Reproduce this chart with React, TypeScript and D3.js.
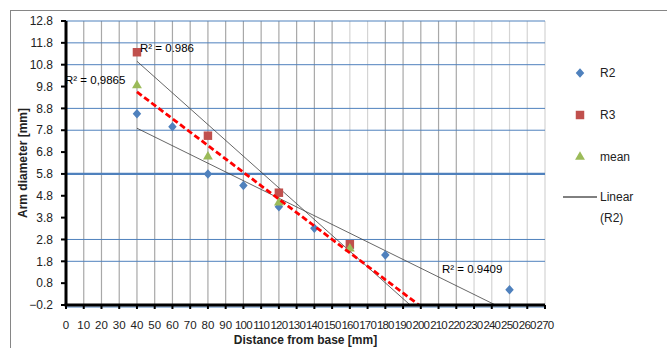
import React from 'react';
import * as d3 from 'd3';

const width = 667;
const height = 348;
const margin = { left: 66, right: 122, top: 21, bottom: 43 };

// data
const distances = [40, 60, 80, 100, 120, 140, 160, 180, 250];
const r2Values = [8.56, 7.96, 5.8, 5.27, 4.3, 3.31, 2.4, 2.09, 0.5];
const r3Distances = [40, 80, 120, 160];
const r3Values = [11.37, 7.55, 4.94, 2.58];
const meanDistances = [40, 80, 120, 160];
const meanValues = [9.9, 6.64, 4.53, 2.42];

const yTicks = [-0.2, 0.8, 1.8, 2.8, 3.8, 4.8, 5.8, 6.8, 7.8, 8.8, 9.8, 10.8, 11.8, 12.8];
const yGridShown = [12.8, 11.8, 10.8, 8.8, 7.8, 5.8, 2.8, 1.8, -0.2];
const xTicks = d3.range(0, 271, 10);
const lightXGrid = [160, 170, 230, 240, 250, 260, 270];

const legendItems = ['R2', 'R3', 'mean'];
const colors = { R2: '#4f81bd', R3: '#c0504d', mean: '#9bbb59' };

const font = '"Liberation Sans", Arial, sans-serif';

function fit(xs: number[], ys: number[]) {
  const mx = d3.mean(xs) as number;
  const my = d3.mean(ys) as number;
  let sxy = 0, sxx = 0;
  xs.forEach((x, i) => { sxy += (x - mx) * (ys[i] - my); sxx += (x - mx) * (x - mx); });
  const slope = sxy / sxx;
  return { slope, intercept: my - slope * mx };
}

// excel-like diamond, slightly taller than wide
const excelDiamond = {
  draw(ctx: any, size: number) {
    const w = Math.sqrt(size) / 2, h = w * 1.12;
    ctx.moveTo(0, -h); ctx.lineTo(w, 0); ctx.lineTo(0, h); ctx.lineTo(-w, 0); ctx.closePath();
  }
};
const diamond = d3.symbol().type(excelDiamond as any).size(72)() as string;
const square = d3.symbol().type(d3.symbolSquare).size(72)() as string;
const triangle = d3.symbol().type(d3.symbolTriangle).size(42)() as string;

export default function App() {
  const x = d3.scaleLinear().domain([0, 270]).range([margin.left, width - margin.right]);
  const y = d3.scaleLinear().domain([-0.2, 12.8]).range([height - margin.bottom, margin.top]);
  const x0 = x(0), x1 = x(270), y0 = y(-0.2), y1 = y(12.8);

  const line = d3.line<[number, number]>().x(d => x(d[0])).y(d => y(d[1]));
  const trend = (xs: number[], ys: number[]) => {
    const f = fit(xs, ys);
    return line([[40, f.slope * 40 + f.intercept], [270, f.slope * 270 + f.intercept]]) as string;
  };

  return (
    <svg width={width} height={height} style={{ position: 'absolute', left: 0, top: 0, background: '#fff' }}>
      <defs>
        <clipPath id="plot">
          <rect x={x0} y={y1} width={x1 - x0} height={y0 - y1} />
        </clipPath>
      </defs>
      <rect x={10.5} y={10.5} width={700} height={400} fill="#fff" stroke="#868686" />

      {xTicks.filter(t => t > 0).map(t => (
        <line key={'vx' + t} x1={x(t)} x2={x(t)} y1={y1} y2={y0}
          stroke={lightXGrid.includes(t) ? '#d4d4d4' : '#a8a8a8'} strokeWidth={1.2} />
      ))}
      {yGridShown.map(t => (
        <line key={'hy' + t} x1={x0} x2={x1} y1={y(t) + (t === -0.2 ? 2 : 0)} y2={y(t) + (t === -0.2 ? 2 : 0)}
          stroke="#4f81bd" strokeWidth={t === 5.8 ? 2.2 : 1} />
      ))}

      <g clipPath="url(#plot)" fill="none">
        <path d={trend(r3Distances, r3Values)} stroke="#404040" strokeWidth={0.8} />
        <path d={trend(distances, r2Values)} stroke="#404040" strokeWidth={0.8} />
      </g>

      {distances.map((d, i) => (
        <path key={'r2' + i} d={diamond} transform={`translate(${x(d)},${y(r2Values[i])})`} fill={colors.R2} />
      ))}
      {r3Distances.map((d, i) => (
        <path key={'r3' + i} d={square} transform={`translate(${x(d)},${y(r3Values[i])})`} fill={colors.R3} />
      ))}
      {meanDistances.map((d, i) => (
        <path key={'m' + i} d={triangle} transform={`translate(${x(d)},${y(meanValues[i]) + 1})`} fill={colors.mean} />
      ))}

      <g clipPath="url(#plot)" fill="none">
        <path d={trend(meanDistances, meanValues)} stroke="#ff0000" strokeWidth={2.8} strokeDasharray="6,3" />
      </g>

      {/* axes */}
      <line x1={x0} x2={x0} y1={y1} y2={y0 + 1} stroke="#000" strokeWidth={3} />
      <line x1={x0 - 1.5} x2={x1} y1={y0} y2={y0} stroke="#000" strokeWidth={3} />
      {yTicks.map(t => (
        <g key={'yt' + t}>
          <line x1={x0 - 5} x2={x0} y1={y(t)} y2={y(t)} stroke="#000" strokeWidth={2} />
          <text x={53} y={y(t)} dy="0.35em" textAnchor="end" fontFamily={font} fontSize={12} fill="#222">
            {d3.format('.1f')(t)}
          </text>
        </g>
      ))}
      {xTicks.map(t => (
        <g key={'xt' + t}>
          <line x1={x(t)} x2={x(t)} y1={y0} y2={y0 + 4} stroke="#000" strokeWidth={2} />
          <text x={x(t)} y={y0 + 24} textAnchor="middle" fontFamily={font} fontSize={11.5} fill="#222"
            letterSpacing={t >= 100 ? -0.8 : 0}>
            {t}
          </text>
        </g>
      ))}

      <text transform={`translate(27,${(y0 + y1) / 2}) rotate(-90)`} textAnchor="middle" fontFamily={font}
        fontSize={12} fontWeight="bold" fill="#222">Arm diameter [mm]</text>
      <text x={(x0 + x1) / 2} y={344} textAnchor="middle" fontFamily={font} fontSize={12} fontWeight="bold" fill="#222">
        Distance from base [mm]
      </text>

      {/* R² labels */}
      <text x={140} y={52} fontFamily={font} fontSize={11.5} fill="#000">R² = 0.986</text>
      <text x={65} y={84} fontFamily={font} fontSize={11.5} fill="#000">R² = 0,9865</text>
      <text x={442} y={273} fontFamily={font} fontSize={11.5} fill="#000">R² = 0.9409</text>

      {/* legend */}
      {legendItems.map((name, i) => {
        const ly = 73 + i * 42;
        const shape = name === 'R2' ? diamond : name === 'R3' ? square : triangle;
        return (
          <g key={name}>
            <path d={shape} transform={`translate(580,${ly})`} fill={colors[name as keyof typeof colors]} />
            <text x={600} y={ly} dy="0.35em" fontFamily={font} fontSize={12} fill="#222">{name}</text>
          </g>
        );
      })}
      <line x1={563} x2={597} y1={197} y2={197} stroke="#000" strokeWidth={1} />
      <text x={600} y={197} dy="0.35em" fontFamily={font} fontSize={12} fill="#222">Linear</text>
      <text x={600} y={218} dy="0.35em" fontFamily={font} fontSize={12} fill="#222">(R2)</text>
    </svg>
  );
}
